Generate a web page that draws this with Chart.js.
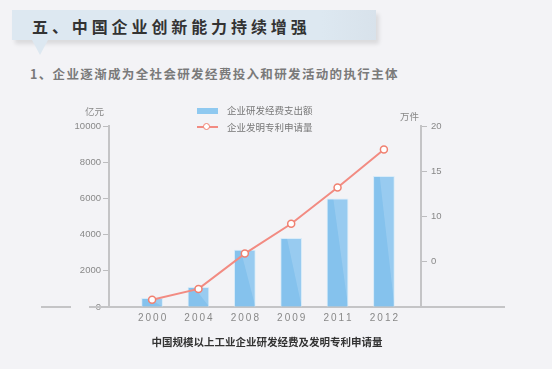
<!DOCTYPE html>
<html>
<head>
<meta charset="utf-8">
<script src="https://cdn.jsdelivr.net/npm/chart.js@4"></script>
<style>
  body { margin: 0; width: 552px; height: 369px; overflow: hidden; position: relative;
         background: #f3f3f6; font-family: "Noto Sans CJK SC", sans-serif; }
  #banner { position: absolute; left: 12px; top: 10px; width: 364px; height: 30px;
            background: linear-gradient(90deg, #dde8f1 0%, #dde8f1 85%, #d8e2eb 100%);
            box-shadow: 3px 4px 4px rgba(0,0,0,0.10); }
  #banner:after { content: ""; position: absolute; left: 20px; top: 30px;
                  border-left: 8px solid transparent; border-right: 8px solid transparent;
                  border-top: 15px solid #dde8f1; }
  .txt { position: absolute; white-space: nowrap; }
  #title { left: 32px; top: 16px; line-height: 20px; font-size: 16px; font-weight: bold;
           letter-spacing: 3.9px; color: #333; }
  #subtitle { left: 30px; top: 66px; line-height: 16px; font-size: 12.5px; font-weight: bold;
              letter-spacing: 1.35px; color: #7a7a7a; }
  .legtxt { font-size: 9.5px; color: #777; line-height: 12px; }
  .unit { font-size: 9.5px; color: #888; line-height: 12px; }
  #caption { left: 267px; top: 334px; transform: translateX(-50%); line-height: 16px;
             font-size: 10.5px; font-weight: bold; color: #333; }
  #chart { position: absolute; left: 0; top: 0; }
</style>
</head>
<body>
<div id="banner"></div>
<div class="txt" id="title">五、中国企业创新能力持续增强</div>
<div class="txt" id="subtitle">1、企业逐渐成为全社会研发经费投入和研发活动的执行主体</div>
<canvas id="chart" width="552" height="369"></canvas>
<div class="txt unit" style="left:85px;top:105px;">亿元</div>
<div class="txt unit" style="left:400px;top:110px;">万件</div>
<div style="position:absolute;left:197px;top:108px;width:21px;height:6px;background:#8fc9f0;"></div>
<div class="txt legtxt" style="left:227px;top:104px;">企业研发经费支出额</div>
<div style="position:absolute;left:197px;top:126px;width:21px;height:2px;background:#f28b82;"></div>
<div style="position:absolute;left:203px;top:123px;width:5px;height:5px;border:1.5px solid #f08070;border-radius:50%;background:#fff;"></div>
<div class="txt legtxt" style="left:227px;top:121px;">企业发明专利申请量</div>
<div class="txt" id="caption">中国规模以上工业企业研发经费及发明专利申请量</div>

<script>
// data
var categories = ['2000', '2004', '2008', '2009', '2011', '2012'];
var rdSpending = [480, 1080, 3150, 3800, 5970, 7220];     // 亿元
var patentApps = [0.8, 2.0, 5.9, 9.2, 13.2, 17.4];        // 万件
var rightTickValues = [0, 5, 10, 15, 20];
var rightTickLabels = ['', '0', '10', '15', '20'];        // as printed on the original

function spaced(s) { return s.split('').join('\u2009'); }

// lighter diagonal highlight on each bar
var barShade = {
  id: 'barShade',
  afterDatasetDraw: function(chart, args) {
    if (args.index !== 0) return;
    var ctx = chart.ctx;
    args.meta.data.forEach(function(el) {
      var p = el.getProps(['x', 'y', 'base', 'width'], true);
      var l = p.x - p.width / 2, r = p.x + p.width / 2;
      ctx.save();
      ctx.fillStyle = 'rgba(255,255,255,0.16)';
      ctx.beginPath();
      ctx.moveTo(l + p.width * 0.3, p.y);
      ctx.lineTo(r, p.y);
      ctx.lineTo(r, p.base);
      ctx.closePath();
      ctx.fill();
      ctx.restore();
    });
  }
};

// long base line running past both axes
var baseLine = {
  id: 'baseLine',
  beforeDatasetsDraw: function(chart) {
    var ctx = chart.ctx, a = chart.chartArea;
    ctx.save();
    ctx.strokeStyle = '#c4c4c6';
    ctx.lineWidth = 2;
    ctx.beginPath();
    ctx.moveTo(a.left - 68, a.bottom); ctx.lineTo(a.left - 38, a.bottom);
    ctx.moveTo(a.left - 20, a.bottom); ctx.lineTo(a.right + 84, a.bottom);
    ctx.stroke();
    ctx.restore();
  }
};

var ctx = document.getElementById('chart').getContext('2d');
var chart = new Chart(ctx, {
  type: 'bar',
  data: {
    datasets: [{
      type: 'bar',
      label: '企业研发经费支出额',
      data: rdSpending.map(function(v, i) { return { x: i, y: v }; }),
      yAxisID: 'yL',
      backgroundColor: '#85c2ed',
      borderColor: '#d6eaf8',
      borderWidth: 1,
      barThickness: 21,
      order: 1
    }, {
      type: 'line',
      label: '企业发明专利申请量',
      data: patentApps.map(function(v, i) { return { x: i, y: v }; }),
      yAxisID: 'yR',
      borderColor: '#f28b82',
      borderWidth: 2,
      pointRadius: 3.5,
      pointBackgroundColor: '#fff',
      pointBorderColor: '#f08070',
      pointBorderWidth: 1.5,
      tension: 0,
      order: 0
    }]
  },
  options: {
    responsive: false,
    animation: false,
    devicePixelRatio: 1,
    layout: { padding: { top: 126, left: 0, right: 0, bottom: 0 } },
    plugins: { legend: { display: false }, tooltip: { enabled: false } },
    scales: {
      x: {
        type: 'linear',
        offset: false,
        min: -0.93,
        max: 5.8,
        afterBuildTicks: function(s) { s.ticks = categories.map(function(c, i) { return { value: i }; }); },
        afterFit: function(s) { s.height = 62; },
        grid: { display: false, drawTicks: false },
        border: { display: false },
        ticks: {
          color: '#888',
          font: { family: 'Liberation Sans', size: 10 },
          padding: 5,
          maxRotation: 0,
          callback: function(v) { return categories[v] ? spaced(categories[v]) : ''; }
        }
      },
      yL: {
        position: 'left',
        min: 0,
        max: 10000,
        afterFit: function(s) { s.width = 109; },
        grid: { drawOnChartArea: false, color: '#bdbdbf', tickLength: 6, lineWidth: 1 },
        border: { display: true, color: '#c4c4c6', width: 2 },
        ticks: { stepSize: 2000, color: '#888', padding: 2,
                 font: { family: 'Liberation Sans', size: 9.5 },
                 callback: function(v) { return String(v); } }
      },
      yR: {
        position: 'right',
        min: 0,
        max: 20,
        afterFit: function(s) { s.width = 131; },
        afterBuildTicks: function(s) { s.ticks = rightTickValues.map(function(v) { return { value: v }; }); },
        grid: { drawOnChartArea: false, color: '#bdbdbf', tickLength: 6, lineWidth: 1 },
        border: { display: true, color: '#c4c4c6', width: 2 },
        ticks: { color: '#888', padding: 4,
                 font: { family: 'Liberation Sans', size: 9.5 },
                 callback: function(v) { var k = rightTickValues.indexOf(v); return k >= 0 ? rightTickLabels[k] : ''; } }
      }
    }
  },
  plugins: [barShade, baseLine]
});
</script>
</body>
</html>
